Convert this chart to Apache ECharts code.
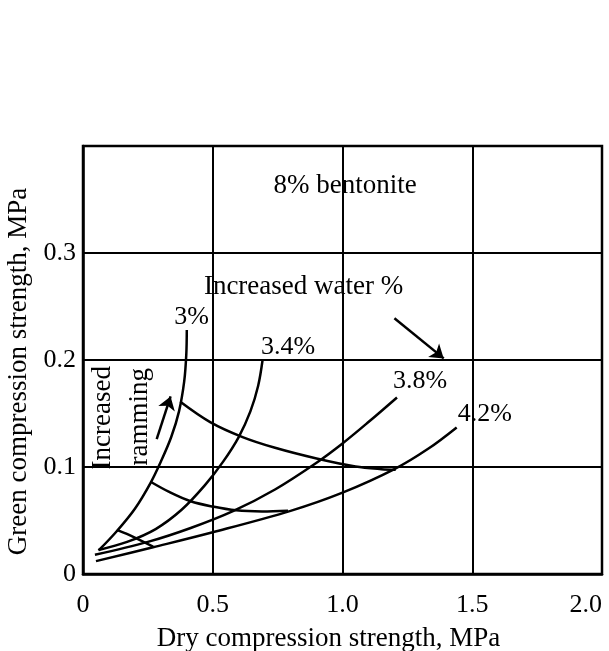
<!DOCTYPE html>
<html><head><meta charset="utf-8">
<script src="https://cdn.jsdelivr.net/npm/echarts@6/dist/echarts.min.js"></script>
<style>html,body{margin:0;padding:0;background:#fff}#c{width:609px;height:651px}</style>
</head><body><div id="c"></div>
<script>
// ---- data (dry strength MPa, green strength MPa) ----
const xTicks = [0, 0.5, 1.0, 1.5, 2.0];
const yTicks = [0, 0.1, 0.2, 0.3];
const water3  = [[0.06,0.022],[0.13,0.04],[0.2,0.061],[0.26,0.085],[0.3,0.105],[0.34,0.128],[0.37,0.152],[0.39,0.18],[0.398,0.205],[0.40,0.228]];
const water34 = [[0.06,0.0225],[0.17,0.03],[0.28,0.042],[0.38,0.06],[0.47,0.083],[0.54,0.105],[0.6,0.128],[0.645,0.152],[0.675,0.176],[0.692,0.2]];
const water38 = [[0.046,0.018],[0.25,0.03],[0.415,0.043],[0.58,0.059],[0.74,0.079],[0.9,0.104],[1.0,0.122],[1.1,0.142],[1.21,0.165]];
const water42 = [[0.05,0.012],[0.27,0.025],[0.5,0.039],[0.8,0.059],[1.0,0.076],[1.2,0.098],[1.33,0.117],[1.44,0.137]];
const rammingUpper  = [[0.375,0.161],[0.49,0.142],[0.615,0.128],[0.74,0.118],[0.9,0.108],[1.05,0.1005],[1.15,0.098],[1.205,0.0975]];
const rammingMiddle = [[0.262,0.086],[0.33,0.077],[0.415,0.068],[0.50,0.063],[0.59,0.0595],[0.69,0.0585],[0.79,0.0592]];
const rammingLower  = [[0.133,0.041],[0.1775,0.0365],[0.27,0.0255]];
const curveNames = ['3%', '3.4%', '3.8%', '4.2%'];
const curveLabelAt = [[0.418,0.24],[0.79,0.212],[1.299,0.1806],[1.548,0.149]];
const arrowRamming = [[0.284,0.126],[0.3375,0.166]];
const arrowWater   = [[1.2,0.239],[1.39,0.2015]];
const notes = [
  {text:'8% bentonite', at:[1.01,0.363], rotate:0, size:27},
  {text:'Increased water %', at:[0.85,0.268], rotate:0, size:27},
  {text:'Increased', at:[0.0775,0.146], rotate:90, size:27},
  {text:'ramming', at:[0.2175,0.147], rotate:90, size:27}
];

const FONT = "'Liberation Serif','DejaVu Serif',serif";
const chart = echarts.init(document.getElementById('c'), null, {renderer:'canvas'});
const curveStyle = {color:'#000', width:2.5};
const mkLine = (name, data) => ({
  type:'line', name, data, smooth:0.35, symbol:'none',
  lineStyle:curveStyle, itemStyle:{color:'#000'}, z:3, silent:true
});

chart.setOption({
  animation:false,
  backgroundColor:'#fff',
  grid:{left:83, right:7, top:146, bottom:77, containLabel:false, outerBoundsMode:'none',
    show:true, borderColor:'#000', borderWidth:2.5, backgroundColor:'transparent'},
  xAxis:{
    type:'value', min:xTicks[0], max:xTicks[xTicks.length-1], interval:0.5,
    name:'Dry compression strength, MPa', nameLocation:'middle', nameGap:51,
    nameTextStyle:{fontFamily:FONT, fontSize:27, color:'#000', padding:[0,28,0,0]},
    axisLine:{show:true, lineStyle:{color:'#000', width:2.5}},
    axisTick:{show:false},
    axisLabel:{fontFamily:FONT, fontSize:26, color:'#000', margin:18, alignMaxLabel:'right',
      formatter:v=> v===0 ? '0' : v.toFixed(1)},
    splitLine:{show:true, lineStyle:{color:'#000', width:2}}
  },
  yAxis:{
    type:'value', min:0, max:0.4, interval:0.1,
    name:'Green compression strength, MPa', nameLocation:'middle', nameGap:48,
    nameTextStyle:{fontFamily:FONT, fontSize:27, color:'#000', padding:[0,23,0,0]},
    axisLine:{show:true, lineStyle:{color:'#000', width:2.5}},
    axisTick:{show:false},
    axisLabel:{fontFamily:FONT, fontSize:26, color:'#000', margin:7,
      formatter:v=> (v>yTicks[yTicks.length-1]+0.05) ? '' : (v===0 ? '0' : v.toFixed(1))},
    splitLine:{show:true, lineStyle:{color:'#000', width:2}}
  },
  series:[
    mkLine(curveNames[0], water3),
    mkLine(curveNames[1], water34),
    mkLine(curveNames[2], water38),
    mkLine(curveNames[3], water42),
    mkLine('ramming upper', rammingUpper),
    mkLine('ramming middle', rammingMiddle),
    mkLine('ramming lower', rammingLower),
    {type:'lines', coordinateSystem:'cartesian2d', silent:true, z:4,
      symbol:['none','arrow'], symbolSize:[0,13],
      lineStyle:{color:'#000', width:2.5, opacity:1},
      data:[{coords:arrowRamming},{coords:arrowWater}]}
  ]
});

// text annotations anchored at data coordinates
const texts = curveNames.map((n,i)=>({text:n, at:curveLabelAt[i], rotate:0, size:26})).concat(notes);
chart.setOption({
  graphic: texts.map(t=>{
    const p = chart.convertToPixel({gridIndex:0}, t.at);
    return {type:'text', x:p[0], y:p[1], rotation:t.rotate*Math.PI/180, z:10, silent:true,
      style:{text:t.text, fill:'#000', font:t.size+'px '+FONT, textAlign:'center', textVerticalAlign:'middle'}};
  })
});
</script></body></html>
